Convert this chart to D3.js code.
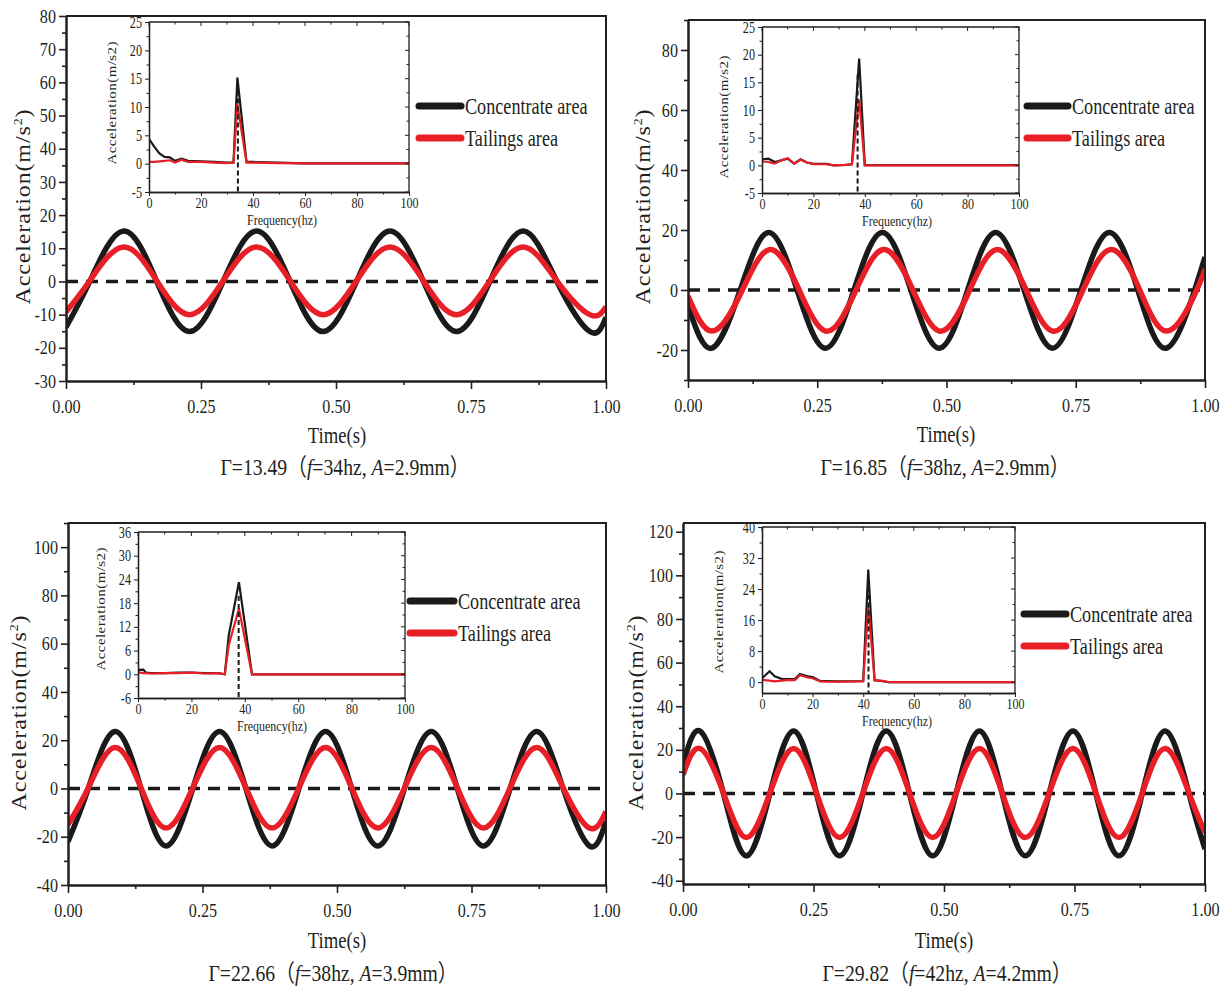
<!DOCTYPE html>
<html>
<head>
<meta charset="utf-8">
<script src="https://cdn.jsdelivr.net/npm/d3@7"></script>
<style>
  body { margin: 0; background: #fff; }
  svg { display: block; }
  text { font-family: "Liberation Serif", "Times New Roman", "Noto Sans CJK SC", serif; fill: #231f20; }
</style>
</head>
<body>
<svg id="fig" width="1220" height="992"></svg>
<script>
// ---------- time-domain records: time (s) and acceleration (m/s^2) ----------
// Γ=13.49 (f=34 Hz, A=2.9 mm)
const time1 = [0, 0.044, 0.106, 0.168, 0.229, 0.291, 0.353, 0.415, 0.476, 0.538, 0.600, 0.662, 0.723, 0.785, 0.847, 0.909, 0.970, 1.0];
const concentrate1 = [-13.8, 0, 15.2, 0, -15.1, 0, 15.2, 0, -15.1, 0, 15.2, 0, -15.1, 0, 15.2, 0, -15.1, -10.8];
const tailings1 = [-9.2, 0.2, 10.4, 0.2, -10.0, 0.2, 10.4, 0.2, -10.0, 0.2, 10.4, 0.2, -10.0, 0.2, 10.4, 0.2, -10.0, -7.6];

// Γ=16.85 (f=38 Hz, A=2.9 mm)
const time2 = [0, 0.046, 0.101, 0.156, 0.211, 0.266, 0.321, 0.376, 0.431, 0.486, 0.541, 0.595, 0.650, 0.705, 0.760, 0.815, 0.870, 0.925, 0.980, 1.0];
const concentrate2 = [-5.2, -19.4, 0, 19.2, 0, -19.4, 0, 19.2, 0, -19.4, 0, 19.2, 0, -19.4, 0, 19.2, 0, -19.4, 0, 11.0];
const tailings2 = [-2.0, -13.7, -1.5, 13.4, 1.5, -13.7, -1.5, 13.4, 1.5, -13.7, -1.5, 13.4, 1.5, -13.7, -1.5, 13.4, 1.5, -13.7, -1.5, 7.0];

// Γ=22.66 (f=38 Hz, A=3.9 mm)
const time3 = [0, 0.0378, 0.0868, 0.1356, 0.1824, 0.2320, 0.2816, 0.3306, 0.3795, 0.4292, 0.4788, 0.5273, 0.5758, 0.6255, 0.6751, 0.7236, 0.7721, 0.8218, 0.8714, 0.9203, 0.9691, 1.0];
const concentrate3 = [-22.0, 0, 23.6, 0, -23.8, 0, 23.6, 0, -23.8, 0, 23.6, 0, -23.8, 0, 23.6, 0, -23.8, 0, 23.6, 0, -23.8, -13.5];
const tailings3 = [-15.0, 0.3, 17.0, 0.3, -16.4, 0.3, 17.0, 0.3, -16.4, 0.3, 17.0, 0.3, -16.4, 0.3, 17.0, 0.3, -16.4, 0.3, 17.0, 0.3, -16.4, -9.5];

// Γ=29.82 (f=42 Hz, A=4.2 mm)
const time4 = [0, 0.0329, 0.0775, 0.1210, 0.1665, 0.2119, 0.2557, 0.2999, 0.3447, 0.3895, 0.4339, 0.4783, 0.5231, 0.5679, 0.6115, 0.6559, 0.7015, 0.7470, 0.7910, 0.8350, 0.8798, 0.9246, 0.9692, 1.0];
const concentrate4 = [13.0, 28.6, 0, -28.6, 0, 28.6, 0, -28.6, 0, 28.6, 0, -28.6, 0, 28.6, 0, -28.6, 0, 28.6, 0, -28.6, 0, 28.6, 0, -25.5];
const tailings4 = [8.5, 20.6, 0.2, -20.2, 0.2, 20.6, 0.2, -20.2, 0.2, 20.6, 0.2, -20.2, 0.2, 20.6, 0.2, -20.2, 0.2, 20.6, 0.2, -20.2, 0.2, 20.6, 0.2, -18.0];

// ---------- spectra: frequency (hz) and amplitude (m/s2) ----------
const freq1 = [0, 2, 4, 6, 8, 10, 12.5, 15, 20, 25, 30, 32.5, 34, 37.5, 40, 50, 60, 80, 100];
const specConcentrate1 = [4.4, 3.0, 1.8, 1.2, 1.1, 0.5, 0.9, 0.5, 0.4, 0.3, 0.2, 0.2, 15.2, 0.3, 0.3, 0.2, 0.05, 0.05, 0.05];
const specTailings1 = [0.3, 0.3, 0.4, 0.5, 0.6, 0.2, 0.7, 0.3, 0.3, 0.2, 0.1, 0.2, 10.5, 0.2, 0.2, 0.1, 0.05, 0.05, 0.05];
const peakFreq1 = 34.2;

const freq2 = [0, 2.5, 5, 7.5, 10, 12.5, 15, 17.5, 20, 25, 28, 32.5, 35, 37.8, 40, 50, 100];
const specConcentrate2 = [1.1, 1.2, 0.6, 0.9, 1.2, 0.3, 1.1, 0.5, 0.25, 0.25, 0.0, 0.1, 0.2, 19.3, 0.05, 0.05, 0.05];
const specTailings2 = [0.7, 0.6, 0.3, 0.9, 1.3, 0.3, 1.0, 0.5, 0.2, 0.2, 0.0, 0.1, 0.2, 11.9, 0.0, 0.0, 0.0];
const peakFreq2 = 37.2;

const freq3 = [0, 2, 3, 5, 10, 15, 20, 25, 30, 32.5, 34, 37.8, 42.7, 50, 100];
const specConcentrate3 = [1.1, 1.2, 0.4, 0.3, 0.3, 0.4, 0.4, 0.3, 0.3, 0.0, 9.9, 23.3, 0.0, 0.0, 0.0];
const specTailings3 = [0.5, 0.3, 0.3, 0.2, 0.3, 0.3, 0.4, 0.2, 0.3, 0.0, 7.4, 16.6, 0.0, 0.0, 0.0];
const peakFreq3 = 37.7;

const freq4 = [0, 1, 3, 5, 8, 10, 13, 15, 18, 20, 23, 25, 30, 40, 42, 44.5, 47, 50, 100];
const specConcentrate4 = [1.0, 1.6, 2.8, 1.5, 0.8, 0.8, 0.8, 2.1, 1.5, 1.3, 0.3, 0.3, 0.2, 0.3, 29.0, 0.5, 0.3, 0.0, 0.0];
const specTailings4 = [0.5, 0.5, 0.4, 0.2, 0.4, 0.5, 0.5, 1.8, 1.2, 1.0, 0.2, 0.1, 0.1, 0.2, 19.8, 0.5, 0.4, 0.0, 0.0];
const peakFreq4 = 42.1;

// ---------- tick labels ----------
const timeTicks = [0, 0.25, 0.5, 0.75, 1.0];
const timeMinorTicks = [0.125, 0.375, 0.625, 0.875];
const freqTicks = [0, 20, 40, 60, 80, 100];
const freqMinorTicks = [10, 30, 50, 70, 90];
const accTicks1 = [-30, -20, -10, 0, 10, 20, 30, 40, 50, 60, 70, 80];
const accTicks2 = [-20, 0, 20, 40, 60, 80];
const accTicks3 = [-40, -20, 0, 20, 40, 60, 80, 100];
const accTicks4 = [-40, -20, 0, 20, 40, 60, 80, 100, 120];
const specTicks1 = [-5, 0, 5, 10, 15, 20, 25];
const specTicks3 = [-6, 0, 6, 12, 18, 24, 30, 36];
const specTicks4 = [0, 8, 16, 24, 32, 40];

const captions = [
  ["Γ=13.49（", "f", "=34hz, ", "A", "=2.9mm）"],
  ["Γ=16.85（", "f", "=38hz, ", "A", "=2.9mm）"],
  ["Γ=22.66（", "f", "=38hz, ", "A", "=3.9mm）"],
  ["Γ=29.82（", "f", "=42hz, ", "A", "=4.2mm）"]
];
const seriesNames = ["Concentrate area", "Tailings area"];

// ---------- styling ----------
const BLACK = "#1b1a1a";
const RED = "#e81f27";
const INK = "#231f20";

const svg = d3.select("#fig");
const defs = svg.append("defs");

// Text in this figure is set in a narrowed serif.
function squeezedText(parent, x, y, size, sx, anchor) {
  return parent.append("text")
    .attr("transform", `translate(${x},${y}) scale(${sx},1)`)
    .attr("text-anchor", anchor || "middle")
    .style("font-size", size + "px");
}

function styleAxis(axisG, fontSize, sx, strokeW) {
  axisG.attr("font-family", null).attr("font-size", null);
  axisG.select(".domain").attr("stroke", INK).attr("stroke-width", strokeW);
  axisG.selectAll(".tick line").attr("stroke", INK).attr("stroke-width", strokeW * 0.8);
  axisG.selectAll(".tick text").each(function () {
    const t = d3.select(this);
    const x0 = +t.attr("x") || 0;
    t.attr("x", x0 / sx).attr("transform", `scale(${sx},1)`)
      .style("font-size", fontSize + "px").attr("fill", INK);
  });
}

const panels = [
  { t: time1, conc: concentrate1, tail: tailings1, yDomain: [-30, 80], yMajor: accTicks1, yMinorStep: 5,
    box: { left: 66, right: 606, top: 16, bottom: 381 },
    yTitle: { x: 30, y: 207 }, xTitle: { x: 337, y: 443 }, caption: { x: 345, y: 475 },
    legend: { x1: 419, x2: 461, y: 106 },
    inset: { f: freq1, conc: specConcentrate1, tail: specTailings1, peak: peakFreq1, yDomain: [-5, 25], yTicks: specTicks1, yMinorStep: 2.5,
             box: { left: 149, right: 409, top: 22, bottom: 192 }, yTitle: { x: 116, y: 103 }, xTitle: { x: 282 } } },
  { t: time2, conc: concentrate2, tail: tailings2, yDomain: [-30, 90], yMajor: accTicks2, yMinorStep: 10,
    box: { left: 688, right: 1205, top: 20, bottom: 380 },
    yTitle: { x: 650, y: 207 }, xTitle: { x: 946, y: 442 }, caption: { x: 945, y: 475 },
    legend: { x1: 1027, x2: 1068, y: 106 },
    inset: { f: freq2, conc: specConcentrate2, tail: specTailings2, peak: peakFreq2, yDomain: [-5, 25], yTicks: specTicks1, yMinorStep: 2.5,
             box: { left: 762, right: 1019, top: 27, bottom: 193 }, yTitle: { x: 728, y: 117 }, xTitle: { x: 897 } } },
  { t: time3, conc: concentrate3, tail: tailings3, yDomain: [-40, 110], yMajor: accTicks3, yMinorStep: 10,
    box: { left: 68, right: 606, top: 523, bottom: 885 },
    yTitle: { x: 26, y: 713 }, xTitle: { x: 337, y: 948 }, caption: { x: 333, y: 981 },
    legend: { x1: 410, x2: 454, y: 601 },
    inset: { f: freq3, conc: specConcentrate3, tail: specTailings3, peak: peakFreq3, yDomain: [-6, 36], yTicks: specTicks3, yMinorStep: 3,
             box: { left: 138, right: 405, top: 532, bottom: 698 }, yTitle: { x: 105, y: 609 }, xTitle: { x: 272 } } },
  { t: time4, conc: concentrate4, tail: tailings4, yDomain: [-41.5, 124], yMajor: accTicks4, yMinorStep: 10,
    box: { left: 683, right: 1205, top: 523, bottom: 884 },
    yTitle: { x: 643, y: 713 }, xTitle: { x: 944, y: 948 }, caption: { x: 947, y: 981 },
    legend: { x1: 1024, x2: 1066, y: 614 },
    inset: { f: freq4, conc: specConcentrate4, tail: specTailings4, peak: peakFreq4, yDomain: [-2.8, 40], yTicks: specTicks4, yMinorStep: 4,
             box: { left: 762, right: 1015, top: 527, bottom: 693 }, yTitle: { x: 723, y: 612 }, xTitle: { x: 897 } } }
];

function minorValues(domain, step, major) {
  const out = [];
  const start = Math.ceil(domain[0] / step) * step;
  for (let v = start; v <= domain[1] + 1e-9; v += step) {
    const r = Math.round(v * 1000) / 1000;
    if (!major.some(m => Math.abs(m - r) < 1e-6)) out.push(r);
  }
  return out;
}

function drawInset(g, ins, idx) {
  const b = ins.box;
  const x = d3.scaleLinear().domain([0, 100]).range([b.left, b.right]);
  const y = d3.scaleLinear().domain(ins.yDomain).range([b.bottom, b.top]);

  g.append("rect").attr("x", b.left).attr("y", b.top).attr("width", b.right - b.left).attr("height", b.bottom - b.top)
    .attr("fill", "#fff");

  const clipId = "inset-clip-" + idx;
  defs.append("clipPath").attr("id", clipId).append("rect")
    .attr("x", b.left).attr("y", b.top - 2).attr("width", b.right - b.left).attr("height", b.bottom - b.top + 2);

  const line = d3.line().x((d, i) => x(ins.f[i])).y(d => y(d));
  g.append("path").datum(ins.conc).attr("d", line).attr("fill", "none")
    .attr("stroke", BLACK).attr("stroke-width", 2.2).attr("stroke-linejoin", "miter").attr("clip-path", `url(#${clipId})`);
  g.append("path").datum(ins.tail).attr("d", line).attr("fill", "none")
    .attr("stroke", RED).attr("stroke-width", 2.2).attr("stroke-linejoin", "miter").attr("clip-path", `url(#${clipId})`);

  // dominant frequency marker
  const peakVal = d3.max(ins.conc);
  g.append("line").attr("x1", x(ins.peak)).attr("x2", x(ins.peak))
    .attr("y1", y(peakVal * 0.85)).attr("y2", b.bottom)
    .attr("stroke", BLACK).attr("stroke-width", 2).attr("stroke-dasharray", "5,3");

  // inward ticks on top and right edges
  const topTicks = freqTicks.concat(freqMinorTicks);
  g.append("g").selectAll("line").data(topTicks).join("line")
    .attr("x1", d => x(d)).attr("x2", d => x(d)).attr("y1", b.top).attr("y2", d => b.top + (freqTicks.includes(d) ? 4 : 2.5))
    .attr("stroke", INK).attr("stroke-width", 1);
  const rightTicks = ins.yTicks.concat(minorValues(ins.yDomain, ins.yMinorStep, ins.yTicks));
  g.append("g").selectAll("line").data(rightTicks).join("line")
    .attr("y1", d => y(d)).attr("y2", d => y(d)).attr("x1", b.right).attr("x2", d => b.right - (ins.yTicks.includes(d) ? 4 : 2.5))
    .attr("stroke", INK).attr("stroke-width", 1);
  g.append("path").attr("d", `M${b.left},${b.top}H${b.right}V${b.bottom}`).attr("fill", "none")
    .attr("stroke", INK).attr("stroke-width", 1.3);

  // left axis
  const ya = g.append("g").attr("transform", `translate(${b.left},0)`)
    .call(d3.axisLeft(y).tickValues(ins.yTicks).tickSize(4).tickSizeOuter(0).tickPadding(3).tickFormat(d => String(d)));
  styleAxis(ya, 16, 0.76, 1.3);
  const yam = g.append("g").attr("transform", `translate(${b.left},0)`)
    .call(d3.axisLeft(y).tickValues(minorValues(ins.yDomain, ins.yMinorStep, ins.yTicks)).tickSize(2.5).tickSizeOuter(0).tickFormat(""));
  styleAxis(yam, 16, 1, 1.3);

  // bottom axis
  const xa = g.append("g").attr("transform", `translate(0,${b.bottom})`)
    .call(d3.axisBottom(x).tickValues(freqTicks).tickSize(4).tickSizeOuter(0).tickPadding(1).tickFormat(d => String(d)));
  styleAxis(xa, 15.5, 0.78, 1.3);
  const xam = g.append("g").attr("transform", `translate(0,${b.bottom})`)
    .call(d3.axisBottom(x).tickValues(freqMinorTicks).tickSize(2.5).tickSizeOuter(0).tickFormat(""));
  styleAxis(xam, 16, 1, 1.3);

  // titles
  squeezedText(g, ins.xTitle.x, b.bottom + 33, 15, 0.8).text("Frequency(hz)");
  g.append("text")
    .attr("transform", `translate(${ins.yTitle.x},${ins.yTitle.y}) scale(0.88,1) rotate(-90)`)
    .attr("text-anchor", "middle")
    .attr("textLength", 123).attr("lengthAdjust", "spacing")
    .style("font-size", "15px")
    .text("Acceleration(m/s2)");
}

function drawPanel(p, idx) {
  const g = svg.append("g");
  const b = p.box;
  const x = d3.scaleLinear().domain([0, 1]).range([b.left, b.right]);
  const y = d3.scaleLinear().domain(p.yDomain).range([b.bottom, b.top]);

  const clipId = "plot-clip-" + idx;
  defs.append("clipPath").attr("id", clipId).append("rect")
    .attr("x", b.left).attr("y", b.top).attr("width", b.right - b.left).attr("height", b.bottom - b.top);

  // zero reference
  g.append("line").attr("x1", b.left).attr("x2", b.right).attr("y1", y(0)).attr("y2", y(0))
    .attr("stroke", BLACK).attr("stroke-width", 3.5).attr("stroke-dasharray", "12,8");

  const line = d3.line().x((d, i) => x(p.t[i])).y(d => y(d)).curve(d3.curveNatural);
  g.append("path").datum(p.conc).attr("d", line).attr("fill", "none")
    .attr("stroke", BLACK).attr("stroke-width", 5.5).attr("clip-path", `url(#${clipId})`);
  g.append("path").datum(p.tail).attr("d", line).attr("fill", "none")
    .attr("stroke", RED).attr("stroke-width", 5.5).attr("clip-path", `url(#${clipId})`);

  // frame
  g.append("path").attr("d", `M${b.left},${b.top}H${b.right}V${b.bottom}`).attr("fill", "none")
    .attr("stroke", INK).attr("stroke-width", 2);

  // y axis
  const ya = g.append("g").attr("transform", `translate(${b.left},0)`)
    .call(d3.axisLeft(y).tickValues(p.yMajor).tickSize(7).tickSizeOuter(0).tickPadding(3).tickFormat(d => String(d)));
  styleAxis(ya, 19, 0.85, 2);
  const yam = g.append("g").attr("transform", `translate(${b.left},0)`)
    .call(d3.axisLeft(y).tickValues(minorValues(p.yDomain, p.yMinorStep, p.yMajor)).tickSize(4).tickSizeOuter(0).tickFormat(""));
  styleAxis(yam, 19, 1, 2);

  // x axis
  const xa = g.append("g").attr("transform", `translate(0,${b.bottom})`)
    .call(d3.axisBottom(x).tickValues(timeTicks).tickSize(8).tickSizeOuter(0).tickPadding(11).tickFormat(d3.format(".2f")));
  styleAxis(xa, 19, 0.85, 2);
  const xam = g.append("g").attr("transform", `translate(0,${b.bottom})`)
    .call(d3.axisBottom(x).tickValues(timeMinorTicks).tickSize(4).tickSizeOuter(0).tickFormat(""));
  styleAxis(xam, 19, 1, 2);

  // axis titles
  squeezedText(g, p.xTitle.x, p.xTitle.y, 24, 0.78).text("Time(s)");
  const yt = g.append("text")
    .attr("transform", `translate(${p.yTitle.x},${p.yTitle.y}) scale(0.88,1) rotate(-90)`)
    .attr("text-anchor", "middle")
    .attr("textLength", 195).attr("lengthAdjust", "spacing")
    .style("font-size", "24px");
  yt.append("tspan").text("Acceleration(m/s");
  yt.append("tspan").attr("dy", -9).style("font-size", "14px").text("2");
  yt.append("tspan").attr("dy", 9).text(")");

  // caption
  const cap = squeezedText(g, p.caption.x, p.caption.y, 24, 0.82);
  const parts = captions[idx];
  parts.forEach((s, i) => {
    const ts = cap.append("tspan").text(s);
    if (i === 1 || i === 3) ts.style("font-style", "italic");
  });

  // legend
  const lg = g.append("g");
  [BLACK, RED].forEach((c, i) => {
    const ly = p.legend.y + i * 32;
    lg.append("line").attr("x1", p.legend.x1).attr("x2", p.legend.x2).attr("y1", ly).attr("y2", ly)
      .attr("stroke", c).attr("stroke-width", 7).attr("stroke-linecap", "round");
    squeezedText(lg, p.legend.x2 + 4, ly + 8, 23, 0.79, "start").text(seriesNames[i]);
  });

  drawInset(g, p.inset, idx);
}

panels.forEach(drawPanel);
</script>
</body>
</html>
